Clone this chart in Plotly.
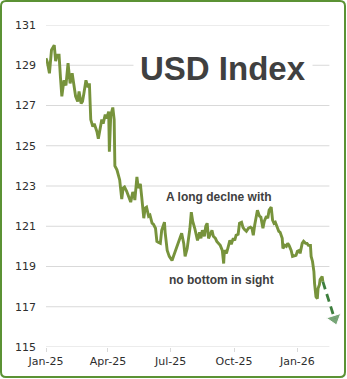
import plotly.graph_objects as go

# ---- data -------------------------------------------------------------
dates = [
    "2025-01-01", "2025-01-03", "2025-01-06", "2025-01-09", "2025-01-13", "2025-01-15",
    "2025-01-17", "2025-01-20", "2025-01-22", "2025-01-24", "2025-01-27", "2025-01-30",
    "2025-02-02", "2025-02-05", "2025-02-08", "2025-02-11", "2025-02-13", "2025-02-16",
    "2025-02-18", "2025-02-21", "2025-02-23", "2025-02-25", "2025-02-28", "2025-03-03",
    "2025-03-05", "2025-03-07", "2025-03-10", "2025-03-12", "2025-03-16", "2025-03-18",
    "2025-03-21", "2025-03-23", "2025-03-25", "2025-03-28", "2025-03-30", "2025-04-02",
    "2025-04-03", "2025-04-05", "2025-04-08", "2025-04-10", "2025-04-11", "2025-04-14",
    "2025-04-18", "2025-04-19", "2025-04-21", "2025-04-23", "2025-04-25", "2025-04-28",
    "2025-05-01", "2025-05-04", "2025-05-07", "2025-05-09", "2025-05-10", "2025-05-13",
    "2025-05-15", "2025-05-18", "2025-05-20", "2025-05-23", "2025-05-25", "2025-05-27",
    "2025-05-30", "2025-06-01", "2025-06-04", "2025-06-06", "2025-06-09", "2025-06-11",
    "2025-06-13", "2025-06-16", "2025-06-18", "2025-06-22", "2025-06-23", "2025-06-25",
    "2025-06-26", "2025-06-29", "2025-07-03", "2025-07-05", "2025-07-08", "2025-07-10",
    "2025-07-12", "2025-07-15", "2025-07-17", "2025-07-20", "2025-07-22", "2025-07-25",
    "2025-07-27", "2025-07-29", "2025-07-31", "2025-08-02", "2025-08-05", "2025-08-07",
    "2025-08-09", "2025-08-12", "2025-08-14", "2025-08-16", "2025-08-19", "2025-08-21",
    "2025-08-23", "2025-08-25", "2025-08-28", "2025-08-30", "2025-09-01", "2025-09-04",
    "2025-09-06", "2025-09-09", "2025-09-11", "2025-09-14", "2025-09-16", "2025-09-17",
    "2025-09-20", "2025-09-22", "2025-09-25", "2025-09-27", "2025-09-30", "2025-10-02",
    "2025-10-04", "2025-10-07", "2025-10-09", "2025-10-12", "2025-10-14", "2025-10-16",
    "2025-10-19", "2025-10-22", "2025-10-25", "2025-10-27", "2025-10-29", "2025-10-31",
    "2025-11-02", "2025-11-04", "2025-11-07", "2025-11-09", "2025-11-12", "2025-11-14",
    "2025-11-17", "2025-11-19", "2025-11-21", "2025-11-24", "2025-11-26", "2025-11-28",
    "2025-11-30", "2025-12-03", "2025-12-05", "2025-12-07", "2025-12-10", "2025-12-11",
    "2025-12-14", "2025-12-16", "2025-12-18", "2025-12-20", "2025-12-23", "2025-12-25",
    "2025-12-28", "2025-12-30", "2026-01-01", "2026-01-04", "2026-01-05", "2026-01-08",
    "2026-01-10", "2026-01-13", "2026-01-15", "2026-01-17", "2026-01-20", "2026-01-21",
    "2026-01-23", "2026-01-25", "2026-01-26", "2026-01-28", "2026-01-30", "2026-01-31",
    "2026-02-02", "2026-02-03", "2026-02-06", "2026-02-07",
]

usd_index = [
    129.35, 129.15, 128.6, 129.76, 130.0, 129.2,
    129.5, 129.5, 128.4, 127.45, 128.25, 128.0,
    129.1, 128.1, 128.6, 128.0, 127.45, 127.2,
    127.7, 127.1, 127.2, 127.6, 128.25, 127.9,
    128.1, 126.3, 125.95, 126.1, 125.7, 125.35,
    125.95, 126.3, 126.1, 126.55, 126.35, 126.7,
    124.7, 126.5, 126.9, 126.3, 124.0, 123.8,
    123.3, 122.8, 122.35, 122.9, 122.95, 122.75,
    122.5, 122.2, 122.7, 122.55, 122.3, 123.45,
    122.9, 123.1, 122.45, 121.4, 121.9, 121.95,
    121.5, 121.55, 121.15, 121.1, 120.9, 120.25,
    120.2, 120.15, 120.8, 121.2, 120.7, 120.0,
    119.8, 119.5, 119.3, 119.5, 119.8, 119.9,
    120.15, 120.4, 120.65, 120.15, 119.5, 119.9,
    120.3, 120.9, 121.7, 121.25, 120.9, 120.65,
    120.3, 120.7, 120.4, 120.8, 120.5, 121.0,
    121.15, 120.4, 120.6, 120.8, 120.5, 120.4,
    120.25, 120.15, 120.05, 119.8, 119.15, 119.8,
    119.65, 119.9, 120.3, 120.1, 120.4, 120.3,
    120.55, 120.6, 121.15, 121.2, 120.95, 120.85,
    120.75, 120.9, 120.95, 120.9, 120.55, 121.05,
    121.4, 121.8, 121.5, 121.45, 120.9, 121.25,
    121.5, 121.4, 121.8, 121.95, 121.3, 121.15,
    121.2, 120.9, 120.75, 120.7, 120.4, 119.9,
    120.05, 120.0, 120.15, 120.05, 119.8, 119.5,
    119.55, 119.55, 119.75, 119.8, 119.65, 120.15,
    120.25, 120.15, 120.15, 120.05, 120.05, 119.5,
    119.25, 118.75, 118.15, 117.5, 117.4, 117.9,
    118.1, 118.35, 118.5, 118.25,
]

# projected continuation (dashed arrow)
proj_dates = ["2026-02-07", "2026-02-24"]
proj_values = [118.25, 116.4]

y_ticks = [115, 117, 119, 121, 123, 125, 127, 129, 131]
x_tick_dates = ["2025-01-01", "2025-04-01", "2025-07-01", "2025-10-01", "2026-01-01"]
x_tick_labels = ["Jan-25", "Apr-25", "Jul-25", "Oct-25", "Jan-26"]

x_range = ["2025-01-01", "2026-03-01"]
grid_end = "2026-02-16 12:00"

# ---- style --------------------------------------------------------------
W, H = 347, 379
M_L, M_R, M_T, M_B = 46, 9, 25, 32
PW, PH = W - M_L - M_R, H - M_T - M_B

LINE_GREEN = "#77933c"
ARROW_GREEN = "#3e7f3e"
BORDER_GREEN = "#5b9234"
GRID = "#d9d9d9"
TEXT = "#404040"


def px_x(p):
    return (p - M_L) / PW


def px_y(p):
    return (H - M_B - p) / PH


fig = go.Figure()

fig.add_trace(go.Scatter(
    x=dates, y=usd_index, mode="lines",
    line=dict(color=LINE_GREEN, width=2.9),
    hoverinfo="skip", showlegend=False,
))

fig.add_trace(go.Scatter(
    x=proj_dates, y=proj_values, mode="lines+markers",
    line=dict(color=ARROW_GREEN, width=2.8, dash="8px,5px"),
    marker=dict(symbol="triangle-up", size=[0, 13], color=ARROW_GREEN,
                angleref="previous"),
    cliponaxis=False, hoverinfo="skip", showlegend=False,
))

# horizontal grid lines, ending at the right edge of the grid area
shapes = []
for v in y_ticks:
    shapes.append(dict(type="line", xref="x", yref="y", x0=x_range[0], x1=grid_end,
                       y0=v, y1=v, line=dict(color=GRID, width=1.2), layer="below"))

# rounded frame around the whole chart
bx0, bx1 = px_x(1), px_x(345)
by0, by1 = px_y(377), px_y(1)
rx, ry = 5 / PW, 5 / PH
frame = (
    f"M {bx0 + rx},{by1} L {bx1 - rx},{by1} Q {bx1},{by1} {bx1},{by1 - ry} "
    f"L {bx1},{by0 + ry} Q {bx1},{by0} {bx1 - rx},{by0} "
    f"L {bx0 + rx},{by0} Q {bx0},{by0} {bx0},{by0 + ry} "
    f"L {bx0},{by1 - ry} Q {bx0},{by1} {bx0 + rx},{by1} Z"
)
shapes.append(dict(type="path", xref="paper", yref="paper", path=frame,
                   line=dict(color=BORDER_GREEN, width=2)))

annotations = [
    dict(text="<b>USD Index</b>", xref="paper", yref="paper",
         x=px_x(223), y=px_y(68), xanchor="center", yanchor="middle",
         showarrow=False, bgcolor="white", borderpad=6,
         font=dict(family="Liberation Sans, Arial", size=33, color=TEXT)),
    dict(text="<b>A long declne with</b>", xref="paper", yref="paper",
         x=px_x(218.5), y=px_y(197), xanchor="center", yanchor="middle",
         showarrow=False,
         font=dict(family="Liberation Sans, Arial", size=12, color=TEXT)),
    dict(text="<b>no bottom in sight</b>", xref="paper", yref="paper",
         x=px_x(221), y=px_y(280), xanchor="center", yanchor="middle",
         showarrow=False,
         font=dict(family="Liberation Sans, Arial", size=12, color=TEXT)),
]

fig.update_layout(
    width=W, height=H,
    margin=dict(l=M_L, r=M_R, t=M_T, b=M_B),
    paper_bgcolor="white", plot_bgcolor="white",
    shapes=shapes, annotations=annotations,
    font=dict(family="DejaVu Sans, Verdana", size=11, color="#2e2e2e"),
)

fig.update_xaxes(
    type="date", range=x_range, showgrid=False, zeroline=False, showline=False,
    tickmode="array", tickvals=x_tick_dates, ticktext=x_tick_labels,
    ticks="outside", ticklen=4, tickcolor=GRID, tickwidth=1,
)
fig.update_yaxes(
    range=[115, 131], showgrid=False, zeroline=False, showline=False,
    tickmode="array", tickvals=y_ticks, ticks="",
    ticklabelstandoff=9,
)

fig.write_html("out.html")
